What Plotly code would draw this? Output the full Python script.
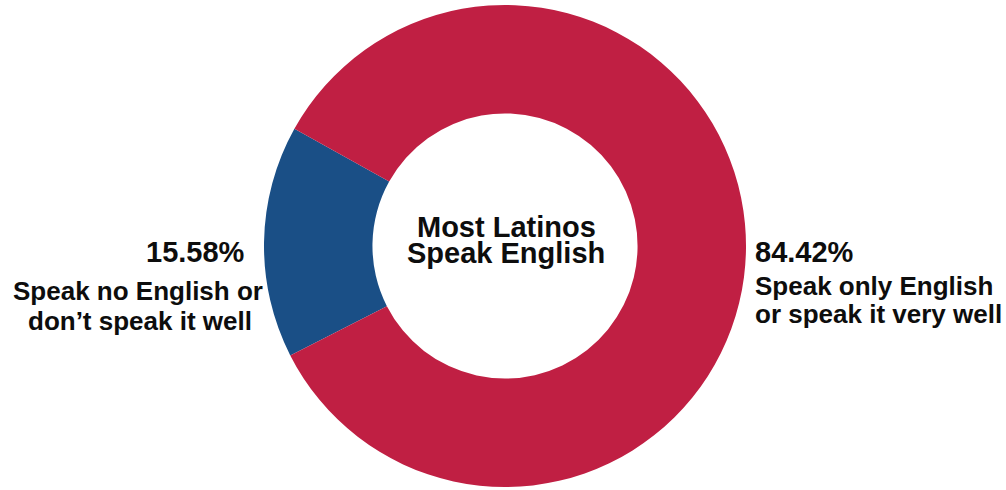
import plotly.graph_objects as go

# Data
categories = ["Speak no English or don't speak it well", "Speak only English or speak it very well"]
values = [15.58, 84.42]
pct_labels = ["15.58%", "84.42%"]
desc_lines_left = ["Speak no English or", "don\u2019t speak it well"]
desc_lines_right = ["Speak only English", "or speak it very well"]
center_lines = ["Most Latinos", "Speak English"]
colors = ["#1A4F86", "#C01F43"]

W, H = 1006, 490
FONT = "Liberation Sans, Arial, sans-serif"

def px(x):
    return x / W

def py(y):
    return 1 - y / H

fig = go.Figure(go.Pie(
    labels=categories,
    values=values,
    hole=0.55,
    sort=False,
    direction="clockwise",
    rotation=243,
    marker=dict(colors=colors, line=dict(width=0)),
    textinfo="none",
    hoverinfo="skip",
    showlegend=False,
    domain=dict(x=[px(264), px(746)], y=[py(488), py(4)]),
))

ann = []
def add(text, x, y, size, xanchor):
    ann.append(dict(text="<b>" + text + "</b>", x=px(x), y=py(y), xref="paper", yref="paper",
                    xanchor=xanchor, yanchor="middle", showarrow=False,
                    font=dict(family=FONT, size=size, color="#0d0d0d")))

# center text
add(center_lines[0], 506, 227, 29, "center")
add(center_lines[1], 506, 253, 29, "center")
# left labels
add(pct_labels[0], 247, 252, 29, "right")
add(desc_lines_left[0], 265, 291, 26, "right")
add(desc_lines_left[1], 254, 321, 26, "right")
# right labels
add(pct_labels[1], 753, 252, 29, "left")
add(desc_lines_right[0], 753, 286, 26, "left")
add(desc_lines_right[1], 753, 314, 26, "left")

fig.update_layout(
    width=W, height=H,
    margin=dict(l=0, r=0, t=0, b=0),
    paper_bgcolor="white",
    plot_bgcolor="white",
    annotations=ann,
)

fig.write_html("out.html")
